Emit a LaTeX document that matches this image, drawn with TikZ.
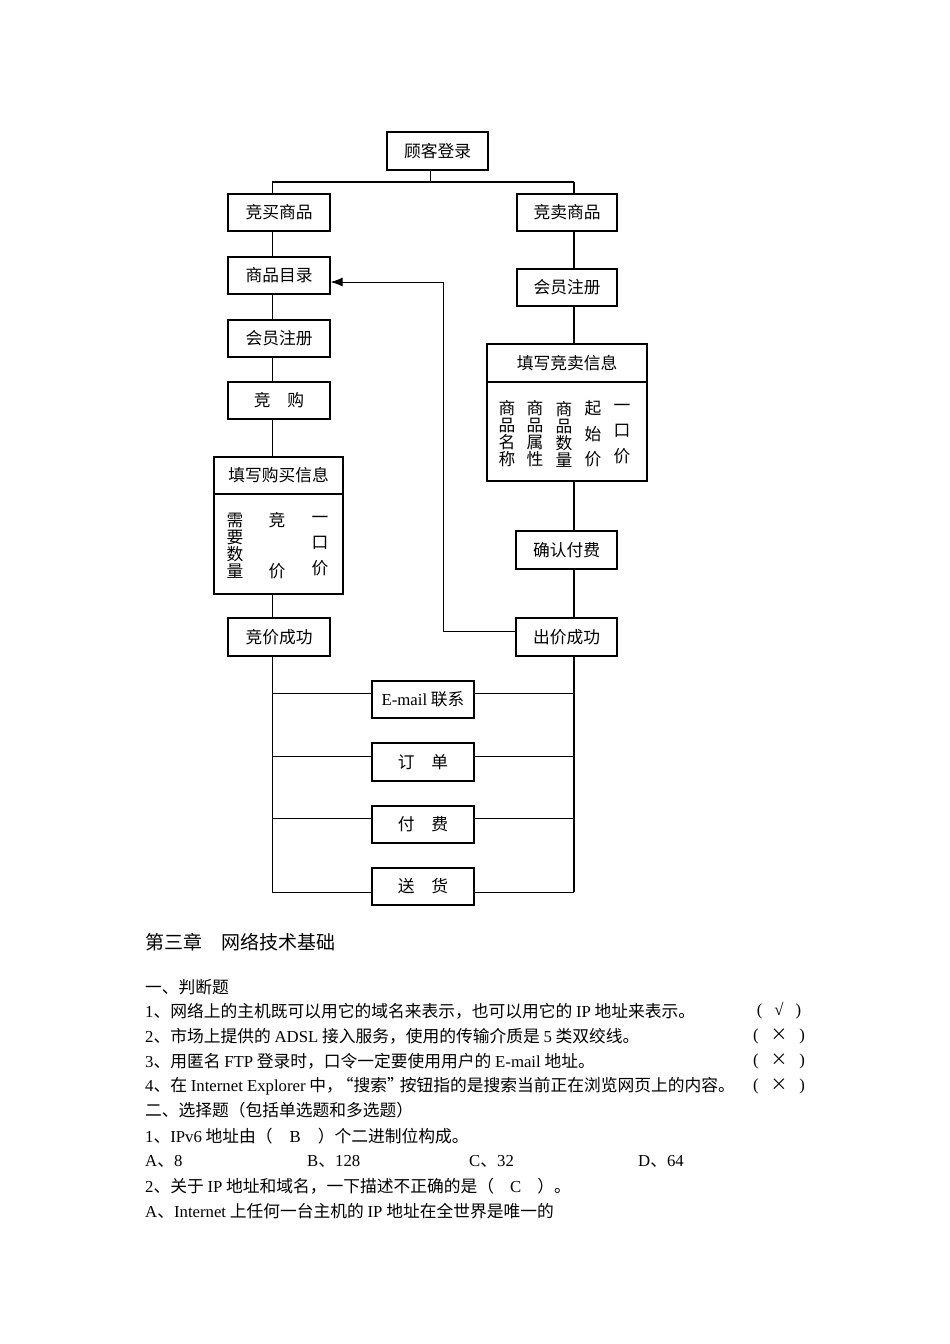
\documentclass[tikz,border=0pt]{standalone}
\usepackage{fontspec}
\setmainfont{Noto Sans CJK SC}
\newfontfamily\tms{Liberation Serif}
\usetikzlibrary{calc,arrows.meta}

\tikzset{
  box/.style={draw, line width=1.2pt, minimum width=102pt, minimum height=37pt,
    inner sep=0pt, font=\fontsize{16.75}{17}\selectfont},
  tight/.style={align=center, inner sep=0pt, font=\fontsize{16.75}{17}\selectfont},
  loose/.style={align=center, inner sep=0pt, font=\fontsize{16.75}{25.5}\selectfont},
  txt/.style={anchor=west, inner sep=0pt, font=\fontsize{16.75}{20}\selectfont},
  answer/.style={inner sep=0pt, font=\fontsize{16.75}{20}\selectfont},
  link/.style={line width=1pt},
  bus/.style={line width=2pt},
}

\begin{document}
\begin{tikzpicture}[x=1pt, y=-1pt]
  \useasboundingbox (0,0) rectangle (950,1344);

  % Draw boxes of the flow chart
  \node[box, minimum width=101pt, minimum height=38pt] (login) at (437.5,151) {顾客登录};
  \node[box] (buy) at (279,212.5) {竞买商品};
  \node[box, minimum width=100pt] (sell) at (567,212.5) {竞卖商品};
  \node[box] (catalog) at (279,275.5) {商品目录};
  \node[box, minimum width=100pt] (reg2) at (567,287.5) {会员注册};
  \node[box] (reg1) at (279,338.5) {会员注册};
  \node[box] (bid) at (279,400.5) {竞　购};

  % Draw the two forms with their fields
  \node[box, minimum width=160pt, minimum height=38pt] (sellhead) at (567,363) {填写竞卖信息};
  \node[box, minimum width=160pt, minimum height=99pt] (sellbody) at (567,431.5) {};
  \node[tight] (s1) at (507,434) {商\\品\\名\\称};
  \node[tight] (s2) at (535,434) {商\\品\\属\\性};
  \node[tight] (s3) at (564,434) {商\\品\\数\\量};
  \node[loose] (s4) at (593,434) {起\\始\\价};
  \node[loose] (s5) at (622,434) {一\\口\\价};

  \node[box, minimum width=129pt] (buyhead) at (278.5,475.5) {填写购买信息};
  \node[box, minimum width=129pt, minimum height=100pt] (buybody) at (278.5,544) {};
  \node[tight] (b1) at (235,546) {需\\要\\数\\量};
  \node[loose] (b2) at (277,546) {竞\\~\\价};
  \node[loose] (b3) at (320,546) {一\\口\\价};

  \node[box, minimum width=101pt, minimum height=38pt] (confirm) at (566.5,550) {确认付费};
  \node[box, minimum height=38pt] (succL) at (279,637) {竞价成功};
  \node[box, minimum width=101pt, minimum height=38pt] (succR) at (566.5,637) {出价成功};

  \node[box] (email) at (423,699.5) {{\tms E-mail} 联系};
  \node[box, minimum height=38pt] (order) at (423,762) {订　单};
  \node[box] (pay) at (423,824.5) {付　费};
  \node[box] (ship) at (423,886.5) {送　货};

  % Draw the bus under the login box
  \coordinate (busL) at (272,182);
  \coordinate (busR) at (574,182);
  \coordinate (busM) at (430,182);
  \draw[bus] (busL) -- (busR);
  \draw[link] (busM) -- (busM |- login.south);
  \draw[link] (busL) -- (busL |- buy.north);
  \draw[bus] (busR) -- (busR |- sell.north);

  % Draw the two chains
  \foreach \a/\b in {buy/catalog, catalog/reg1, reg1/bid, bid/buyhead, buybody/succL}
    \draw[link] (busL |- \a.south) -- (busL |- \b.north);
  \foreach \a/\b in {sell/reg2, reg2/sellhead, sellbody/confirm, confirm/succR}
    \draw[bus] (busR |- \a.south) -- (busR |- \b.north);

  % Draw the branches to the last four boxes
  \foreach \n/\d in {email/-6.5, order/-6, pay/-6.5, ship/5.5} {
    \path ($(\n.west)+(0,\d)$) coordinate (\n-l);
    \path ($(\n.east)+(0,\d)$) coordinate (\n-r);
    \draw[link] (\n-l) -- (busL |- \n-l);
    \draw[link] (\n-r) -- (busR |- \n-r);
  }
  \draw[link] (busL |- succL.south) -- (busL |- ship-l);
  \draw[bus] (busR |- succR.south) -- (busR |- ship-r);

  % Draw the way back to the catalog
  \path ($(succR.west)+(0,-6)$) coordinate (ret);
  \path ($(catalog.east)+(0,6.5)$) coordinate (back);
  \draw[link, -{Latex[length=12pt, width=9pt]}] (ret) -- ++(-72,0) |- (back);

  % Text below the chart
  \node[txt, font=\fontsize{19}{22}\selectfont] (h) at (145,942) {第三章　网络技术基础};
  \node[txt] (j0) at (145,987) {一、判断题};
  \node[txt] (j1) at (145,1011) {{\tms 1}、网络上的主机既可以用它的域名来表示，也可以用它的 {\tms IP} 地址来表示。};
  \node[txt] (j2) at (145,1036) {{\tms 2}、市场上提供的 {\tms ADSL} 接入服务，使用的传输介质是 {\tms 5} 类双绞线。};
  \node[txt] (j3) at (145,1061) {{\tms 3}、用匿名 {\tms FTP} 登录时，口令一定要使用用户的 {\tms E-mail} 地址。};
  \node[txt] (j4) at (145,1086) {{\tms 4}、在 {\tms Internet Explorer} 中，\hspace{-6pt}“搜索”\hspace{-4pt}按钮指的是搜索当前正在浏览网页上的内容。};
  \node[answer] (a1) at (779,1011) {{\tms (}\hspace{12pt}{\tms √}\hspace{12pt}{\tms )}};
  \node[answer] (a2) at (779,1036) {{\tms (}\hspace{12pt}×\hspace{12pt}{\tms )}};
  \node[answer] (a3) at (779,1061) {{\tms (}\hspace{12pt}×\hspace{12pt}{\tms )}};
  \node[answer] (a4) at (779,1086) {{\tms (}\hspace{12pt}×\hspace{12pt}{\tms )}};
  \node[txt] (c0) at (145,1110) {二、选择题（包括单选题和多选题）};
  \node[txt] (c1) at (145,1136) {{\tms 1}、{\tms IPv6} 地址由（\hspace{17pt}{\tms B}\hspace{17pt}）个二进制位构成。};
  \node[txt] (o1) at (145,1161) {{\tms A}、{\tms 8}};
  \node[txt] (o2) at (307,1161) {{\tms B}、{\tms 128}};
  \node[txt] (o3) at (469,1161) {{\tms C}、{\tms 32}};
  \node[txt] (o4) at (638,1161) {{\tms D}、{\tms 64}};
  \node[txt] (c2) at (145,1186) {{\tms 2}、关于 {\tms IP} 地址和域名，一下描述不正确的是（\hspace{16pt}{\tms C}\hspace{16pt}）。};
  \node[txt] (c3) at (145,1211) {{\tms A}、{\tms Internet} 上任何一台主机的 {\tms IP} 地址在全世界是唯一的};
\end{tikzpicture}
\end{document}
